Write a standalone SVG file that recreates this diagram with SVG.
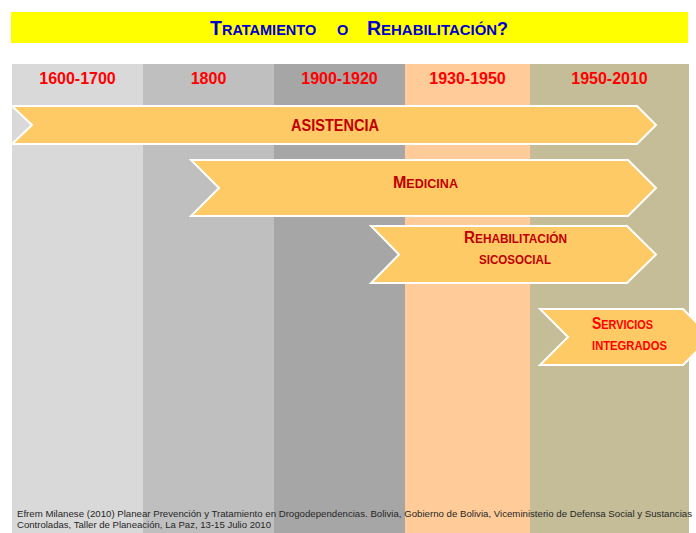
<svg xmlns="http://www.w3.org/2000/svg" width="696" height="533" viewBox="0 0 696 533">
<style>
.yr{font-family:"Liberation Sans",Arial,sans-serif;font-weight:bold;font-size:16px;fill:#FF0000;text-anchor:middle}
.arr{fill:#FECA66;stroke:#FFFFFF;stroke-width:2;stroke-linejoin:miter}
.lbl{font-family:"Liberation Sans",Arial,sans-serif;font-weight:bold;fill:#C00000}
.big{font-size:16px}
.sm{font-size:12.5px}
.ttl{font-family:"Liberation Sans",Arial,sans-serif;font-weight:bold;fill:#0000CC}
.foot{font-family:"Liberation Sans",Arial,sans-serif;font-size:9.5px;fill:#262626}
</style>
<rect x="0" y="0" width="696" height="533" fill="#FFFFFF"/>
<g id="title">
<rect x="11" y="12" width="677" height="31" fill="#FFFF00"/>
<text class="ttl" y="35"><tspan x="210" font-size="19.5">T</tspan><tspan font-size="14.5">RATAMIENTO</tspan><tspan x="337" font-size="14.5">O</tspan><tspan x="367" font-size="19.5">R</tspan><tspan font-size="14.5" textLength="116" lengthAdjust="spacingAndGlyphs">EHABILITACIÓN</tspan><tspan font-size="18">?</tspan></text>
</g>
<g id="columns">
<rect x="12" y="64" width="131" height="469" fill="#D9D9D9"/>
<rect x="143" y="64" width="131" height="469" fill="#BFBFBF"/>
<rect x="274" y="64" width="131" height="469" fill="#A6A6A6"/>
<rect x="405" y="64" width="125" height="469" fill="#FFCC99"/>
<rect x="530" y="64" width="159" height="469" fill="#C4BD97"/>
<text class="yr" x="77.5" y="84">1600-1700</text>
<text class="yr" x="208.5" y="84">1800</text>
<text class="yr" x="339.5" y="84">1900-1920</text>
<text class="yr" x="467.5" y="84">1930-1950</text>
<text class="yr" x="609.5" y="84">1950-2010</text>
</g>
<g id="connectors"></g>
<g id="asistencia">
<polygon class="arr" points="12,106 637,106 656,125 637,144 12,144 32,125"/>
<text class="lbl" x="335" y="131" font-size="16.5" text-anchor="middle" textLength="88" lengthAdjust="spacingAndGlyphs">ASISTENCIA</text>
</g>
<g id="medicina">
<polygon class="arr" points="191,160 628,160 656,188 628,216 191,216 219,188"/>
<text class="lbl" x="393" y="188" textLength="65" lengthAdjust="spacingAndGlyphs"><tspan class="big">M</tspan><tspan class="sm">EDICINA</tspan></text>
</g>
<g id="rehabilitacion">
<polygon class="arr" points="371,226 627,226 656,254.5 627,283 371,283 399,254.5"/>
<text class="lbl" x="464" y="243" textLength="103" lengthAdjust="spacingAndGlyphs"><tspan class="big">R</tspan><tspan class="sm">EHABILITACIÓN</tspan></text>
<text class="lbl sm" x="479" y="264" textLength="72" lengthAdjust="spacingAndGlyphs">SICOSOCIAL</text>
</g>
<g id="servicios">
<polygon class="arr" points="540,309 683,309 711,337 683,365 540,365 568,337"/>
<text class="lbl" x="592" y="329" style="fill:#FF0000" textLength="61" lengthAdjust="spacingAndGlyphs"><tspan class="big">S</tspan><tspan class="sm">ERVICIOS</tspan></text>
<text class="lbl sm" x="592" y="350" style="fill:#FF0000" textLength="75" lengthAdjust="spacingAndGlyphs">INTEGRADOS</text>
</g>
<g id="footnote">
<text class="foot" x="17" y="517" textLength="675" lengthAdjust="spacingAndGlyphs">Efrem Milanese (2010) Planear Prevención y Tratamiento en Drogodependencias. Bolivia, Gobierno de Bolivia, Viceministerio de Defensa Social y Sustancias</text>
<text class="foot" x="17" y="528" textLength="254" lengthAdjust="spacingAndGlyphs">Controladas, Taller de Planeación, La Paz, 13-15 Julio 2010</text>
</g>
</svg>
